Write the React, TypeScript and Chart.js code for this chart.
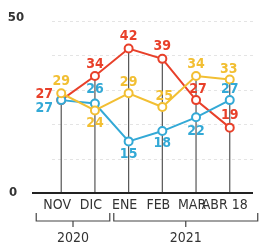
import { useEffect, useRef } from "react";
import { Chart, registerables } from "chart.js";
Chart.register(...registerables);

const categories = ["NOV", "DIC", "ENE", "FEB", "MAR", "ABR 18"];
const years = ["2020", "2021"];
const yearStartIndex = [0, 2];
const redValues = [27, 34, 42, 39, 27, 19];
const yellowValues = [29, 24, 29, 25, 34, 33];
const cyanValues = [27, 26, 15, 18, 22, 27];
const yTickValues = [0, 50];
const gridValues = [10, 20, 30, 40, 50];

const RED = "#e8402a";
const YELLOW = "#f2bf33";
const CYAN = "#33a9d6";
const INK = "#333333";
const NARROW = "'Liberation Sans Narrow', 'DejaVu Sans Condensed', 'Liberation Sans', sans-serif";

// label offsets (style only)
const labelOffsets: Record<string, number[][]> = {
  red: [[-17, -6], [0, -12], [0, -12], [0, -12], [2, -11], [0, -12]],
  yellow: [[0, -12], [0, 13], [0, -11], [2, -11], [0, -12], [-1, -10]],
  cyan: [[-17, 8], [0, -14], [0, 13], [0, 12], [0, 14], [0, -11]],
};

export default function App() {
  const ref = useRef<HTMLCanvasElement>(null);
  useEffect(() => {
    document.body.style.margin = "0";
    const mk = (vals: number[]) => vals.map((v, i) => ({ x: i, y: v }));
    const series = [
      { key: "yellow", color: YELLOW, vals: yellowValues },
      { key: "cyan", color: CYAN, vals: cyanValues },
      { key: "red", color: RED, vals: redValues },
    ];
    const plugin = {
      id: "deco",
      beforeDatasetsDraw(chart: any) {
        const ctx = chart.ctx;
        const xs = chart.scales.x;
        const ys = chart.scales.y;
        const area = chart.chartArea;
        ctx.save();
        // grid
        ctx.strokeStyle = "#e4e4e4";
        ctx.lineWidth = 1;
        ctx.setLineDash([3, 3]);
        gridValues.forEach((g) => {
          const y = Math.round(ys.getPixelForValue(g)) + 0.5;
          ctx.beginPath();
          ctx.moveTo(area.left + 20, y);
          ctx.lineTo(area.right, y);
          ctx.stroke();
        });
        ctx.setLineDash([]);
        // vertical lines
        ctx.strokeStyle = "#555";
        ctx.lineWidth = 1.2;
        categories.forEach((_, i) => {
          const mx = Math.max(redValues[i], yellowValues[i], cyanValues[i]);
          const x = xs.getPixelForValue(i);
          ctx.beginPath();
          ctx.moveTo(x, ys.getPixelForValue(mx));
          ctx.lineTo(x, ys.getPixelForValue(0));
          ctx.stroke();
        });
        // baseline
        ctx.strokeStyle = "#222";
        ctx.lineWidth = 2;
        const by = ys.getPixelForValue(0);
        ctx.beginPath();
        ctx.moveTo(area.left, by);
        ctx.lineTo(area.right, by);
        ctx.stroke();
        ctx.restore();
      },
      afterDatasetsDraw(chart: any) {
        const ctx = chart.ctx;
        const xs = chart.scales.x;
        const ys = chart.scales.y;
        ctx.save();
        // data labels
        ctx.textAlign = "center";
        ctx.textBaseline = "middle";
        ctx.font = `bold 14px ${NARROW}`;
        series.forEach((s) => {
          s.vals.forEach((v, i) => {
            const [dx, dy] = labelOffsets[s.key][i];
            ctx.fillStyle = s.color;
            ctx.fillText(String(v), xs.getPixelForValue(i) + dx, ys.getPixelForValue(v) + dy);
          });
        });
        // y tick labels
        ctx.fillStyle = INK;
        ctx.font = `bold 13px ${NARROW}`;
        yTickValues.forEach((t) => {
          ctx.textAlign = "center";
          ctx.fillText(String(t), t === 0 ? 13 : 16, ys.getPixelForValue(t) + (t === 0 ? 0 : -3));
        });
        // x labels
        ctx.font = `14px ${NARROW}`;
        const ly = ys.getPixelForValue(0) + 12;
        categories.forEach((c, i) => {
          const x = xs.getPixelForValue(i);
          ctx.textAlign = "center";
          ctx.fillText(c, i === categories.length - 1 ? x - 5 : x - 4, ly);
        });
        // year brackets
        ctx.strokeStyle = "#444";
        ctx.lineWidth = 1.2;
        const bTop = ly + 8;
        const bBot = ly + 16;
        const yearLabelY = ly + 33;
        years.forEach((yr, gi) => {
          const s = yearStartIndex[gi];
          const e = gi + 1 < years.length ? yearStartIndex[gi + 1] - 1 : categories.length - 1;
          const x0 = gi === 0 ? xs.getPixelForValue(s) - 25 : (xs.getPixelForValue(s - 1) + xs.getPixelForValue(s)) / 2 + 2;
          const x1 = gi + 1 < years.length ? (xs.getPixelForValue(e) + xs.getPixelForValue(e + 1)) / 2 - 2 : xs.getPixelForValue(e) + 28;
          const xm = (x0 + x1) / 2;
          ctx.beginPath();
          ctx.moveTo(x0, bTop);
          ctx.lineTo(x0, bBot);
          ctx.lineTo(x1, bBot);
          ctx.lineTo(x1, bTop);
          ctx.moveTo(xm, bBot);
          ctx.lineTo(xm, bBot + 6);
          ctx.stroke();
          ctx.fillStyle = INK;
          ctx.font = `14px ${NARROW}`;
          ctx.textAlign = "center";
          ctx.fillText(yr, xm, yearLabelY);
        });
        ctx.restore();
      },
    };
    const chart = new Chart(ref.current!, {
      type: "line",
      data: {
        labels: categories,
        datasets: series.map((s) => ({
          label: s.key,
          data: mk(s.vals),
          borderColor: s.color,
          backgroundColor: "#ffffff",
          pointBackgroundColor: "#ffffff",
          pointBorderColor: s.color,
          pointBorderWidth: 2,
          pointRadius: 4,
          borderWidth: 2,
          tension: 0,
        })),
      },
      options: {
        animation: false,
        responsive: true,
        maintainAspectRatio: false,
        layout: { padding: { left: 32, right: 0, top: 21, bottom: 53 } },
        plugins: { legend: { display: false }, tooltip: { enabled: false } },
        scales: {
          x: { type: "linear", min: -0.867, max: 5.69, display: false },
          y: { min: 0, max: 50, display: false },
        },
      },
      plugins: [plugin],
    });
    return () => chart.destroy();
  }, []);
  return (
    <div style={{ width: 259, height: 246, position: "relative", background: "#fff" }}>
      <canvas ref={ref} />
    </div>
  );
}
